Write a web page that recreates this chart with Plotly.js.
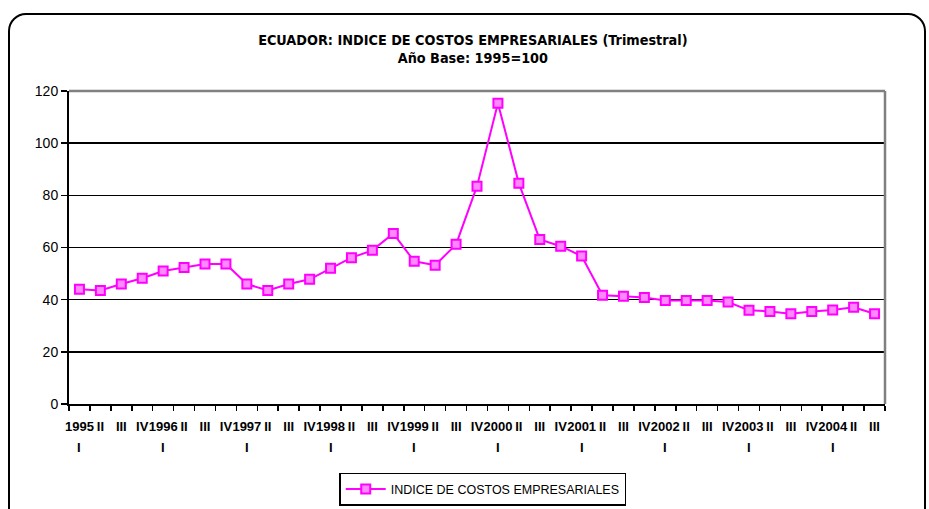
<!DOCTYPE html>
<html>
<head>
<meta charset="utf-8">
<script src="https://cdn.plot.ly/plotly-3.0.1.min.js"></script>
<style>
html,body{margin:0;padding:0;background:#fff;}
#wrap{position:relative;width:929px;height:509px;overflow:hidden;}
#chart{width:929px;height:509px;}
#frame{position:absolute;left:8px;top:13px;width:914px;height:530px;border:2px solid #000;border-radius:18px;pointer-events:none;}
</style>
</head>
<body>
<div id="wrap"><div id="chart"></div><div id="frame"></div></div>
<script>
// Quarterly periods (1995 I .. 2004 III)
const periods = [
  '1995 I','1995 II','1995 III','1995 IV',
  '1996 I','1996 II','1996 III','1996 IV',
  '1997 I','1997 II','1997 III','1997 IV',
  '1998 I','1998 II','1998 III','1998 IV',
  '1999 I','1999 II','1999 III','1999 IV',
  '2000 I','2000 II','2000 III','2000 IV',
  '2001 I','2001 II','2001 III','2001 IV',
  '2002 I','2002 II','2002 III','2002 IV',
  '2003 I','2003 II','2003 III','2003 IV',
  '2004 I','2004 II','2004 III'
];
// Index values
const indice = [
  44.0, 43.5, 46.0, 48.2,
  51.0, 52.3, 53.7, 53.7,
  46.0, 43.5, 46.0, 47.8,
  52.0, 56.1, 58.9, 65.4,
  54.7, 53.2, 61.2, 83.5,
  115.3, 84.6, 63.1, 60.5,
  56.7, 41.7, 41.3, 40.8,
  39.7, 39.7, 39.7, 39.1,
  35.9, 35.5, 34.6, 35.5,
  36.0, 37.1, 34.6
];
// Tick labels, first row
const tickRow1 = [
  '1995','II','III','IV','1996','II','III','IV','1997','II','III','IV',
  '1998','II','III','IV','1999','II','III','IV','2000','II','III','IV',
  '2001','II','III','IV','2002','II','III','IV','2003','II','III','IV',
  '2004','II','III'
];
// Tick label, second row (under the years)
const tickRow2Text = 'I';
const yTicks = [0, 20, 40, 60, 80, 100, 120];

const row2Periods = periods.filter(p => p.endsWith(' I'));

const FONT = 'Liberation Sans, Arial, sans-serif';
const NARROW = 'DejaVu Sans Condensed, Liberation Sans Narrow, sans-serif';

const trace = {
  type: 'scatter',
  mode: 'lines+markers',
  name: 'INDICE DE COSTOS EMPRESARIALES',
  x: periods,
  y: indice,
  line: {color: '#ff00ff', width: 2},
  marker: {symbol: 'square', size: 9, color: '#ff88ff', line: {color: '#ff00ff', width: 2}}
};

const annotations = row2Periods.map(p => ({
  x: p, xref: 'x', y: 0, yref: 'y',
  text: '<b>' + tickRow2Text + '</b>', showarrow: false,
  yanchor: 'middle', xanchor: 'center', yshift: -43,
  font: {family: FONT, size: 13, color: '#000'}
}));

const layout = {
  width: 929, height: 509,
  margin: {l: 69, r: 44, t: 91, b: 105, autoexpand: false},
  paper_bgcolor: '#ffffff',
  plot_bgcolor: '#ffffff',
  font: {family: FONT, color: '#000'},
  title: {
    text: '<b>ECUADOR: INDICE DE COSTOS EMPRESARIALES (Trimestral)</b><br><b>Año Base: 1995=100</b>',
    font: {family: NARROW, size: 14.3, color: '#000'},
    x: 0.509, xanchor: 'center', y: 0.912, yanchor: 'top'
  },
  showlegend: true,
  legend: {
    orientation: 'h', x: 0.507, xanchor: 'center', y: -0.2204, yanchor: 'top',
    bordercolor: '#000', borderwidth: 1.5, font: {family: FONT, size: 12.5, color: '#000'},
    itemwidth: 40
  },
  annotations: annotations,
  xaxis: {
    type: 'category',
    range: [-0.5, periods.length - 0.5],
    tickmode: 'array', tickvals: periods, ticktext: tickRow1.map(t => '<b>' + t + '</b>'),
    tickson: 'boundaries', ticks: 'outside', ticklen: 5, tickwidth: 1.5, tickcolor: '#000',
    tickangle: 0, tickfont: {family: FONT, size: 13, color: '#000'},
    ticklabelstandoff: 9,
    showline: true, linecolor: '#000', linewidth: 2,
    showgrid: false, zeroline: false, fixedrange: true
  },
  yaxis: {
    range: [0, 120], tickmode: 'array', tickvals: yTicks,
    ticks: 'outside', ticklen: 6, tickwidth: 1.5, tickcolor: '#000',
    tickfont: {family: FONT, size: 14, color: '#000'},
    showline: true, linecolor: '#000', linewidth: 2,
    showgrid: true, gridcolor: '#000', gridwidth: 1.5,
    zeroline: false, fixedrange: true
  },
  shapes: [
    {type: 'line', xref: 'paper', yref: 'paper', x0: 0, x1: 1, y0: 1, y1: 1, line: {color: '#808080', width: 2.5}, layer: 'above'},
    {type: 'line', xref: 'paper', yref: 'paper', x0: 1, x1: 1, y0: 0, y1: 1, line: {color: '#808080', width: 2.5}, layer: 'above'}
  ]
};

Plotly.newPlot('chart', [trace], layout, {displayModeBar: false, staticPlot: true});
</script>
</body>
</html>
